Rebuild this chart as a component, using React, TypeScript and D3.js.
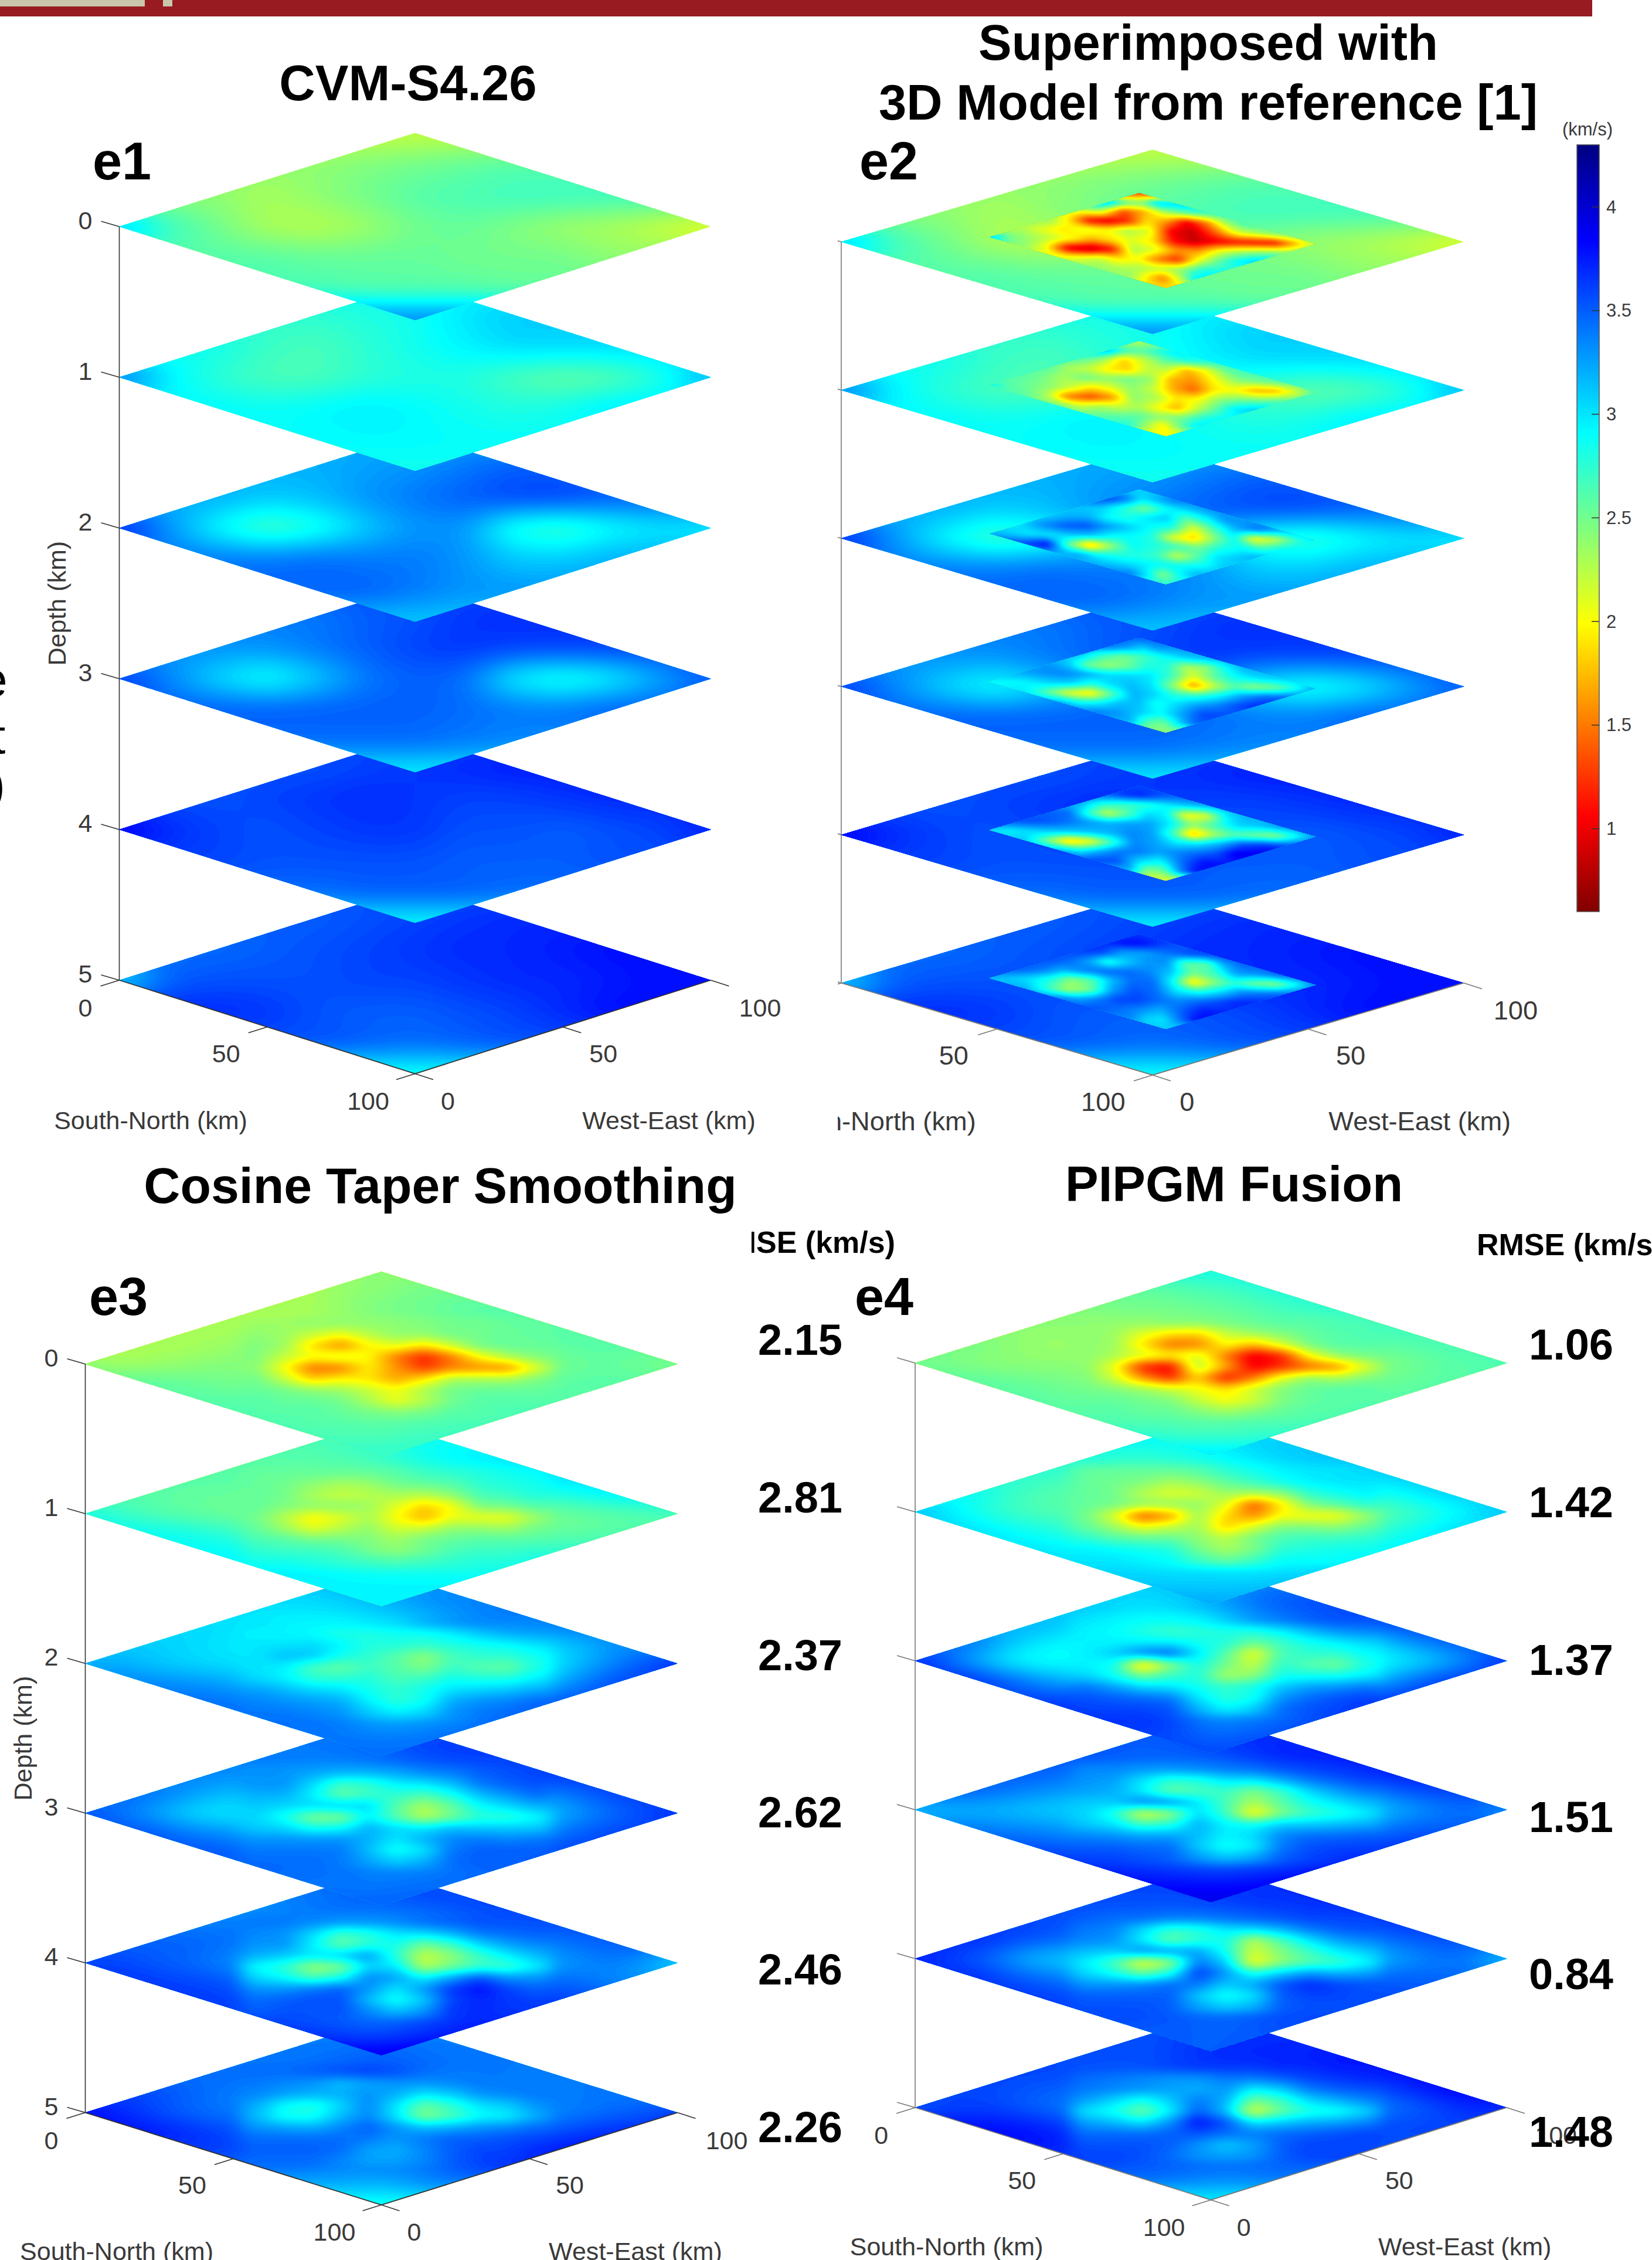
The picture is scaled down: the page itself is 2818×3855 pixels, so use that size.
import React, { useMemo } from 'react';
import * as d3 from 'd3';

// velocity grids in km/s. Each slice is a diamond: rows run top to bottom,
// and each row runs from the left edge of the diamond to its right edge.

const e1Slices = [
  [[2.2], [2.4, 2.45, 2.5, 2.55, 2.6], [2.4, 2.3, 2.4, 2.5, 2.6, 2.65, 2.7, 2.7, 2.7], [3.2, 2.7, 2.5, 2.3, 2.25, 2.35, 2.5, 2.55, 2.45, 2.35, 2.3, 2.2, 2.05], [2.6, 2.6, 2.55, 2.55, 2.55, 2.5, 2.5, 2.5, 2.4], [2.65, 2.6, 2.6, 2.6, 2.55], [3.4]],
  [[2.9], [2.75, 2.8, 2.85, 3.0, 3.1], [2.85, 2.7, 2.65, 2.75, 2.85, 2.95, 3.05, 3.05, 3.05], [3.45, 2.95, 2.75, 2.65, 2.65, 2.75, 2.8, 2.8, 2.65, 2.55, 2.6, 2.8, 3.2], [2.92, 2.88, 2.92, 2.98, 2.92, 2.85, 2.8, 2.85, 3.0], [2.9, 2.92, 2.92, 2.9, 2.9], [2.85]],
  [[3.2], [3.2, 3.25, 3.3, 3.4, 3.5], [3.2, 3.1, 3.15, 3.3, 3.4, 3.5, 3.6, 3.6, 3.5], [3.75, 3.3, 2.9, 2.65, 2.8, 3.1, 3.3, 3.3, 2.8, 2.7, 2.9, 3.0, 2.95], [3.4, 3.4, 3.45, 3.4, 3.4, 3.3, 3.1, 3.1, 3.2], [3.5, 3.5, 3.4, 3.3, 3.3], [3.1]],
  [[3.55], [3.4, 3.5, 3.55, 3.65, 3.7], [3.3, 3.3, 3.4, 3.5, 3.6, 3.65, 3.6, 3.6, 3.6], [3.65, 3.35, 3.05, 2.85, 3.1, 3.4, 3.5, 3.45, 2.95, 2.8, 2.95, 3.25, 3.5], [3.5, 3.5, 3.5, 3.5, 3.5, 3.45, 3.4, 3.4, 3.5], [3.45, 3.45, 3.45, 3.4, 3.35], [2.95]],
  [[3.6], [3.55, 3.6, 3.65, 3.7, 3.75], [3.55, 3.6, 3.65, 3.7, 3.65, 3.6, 3.6, 3.65, 3.7], [3.9, 3.7, 3.6, 3.55, 3.6, 3.65, 3.65, 3.55, 3.55, 3.5, 3.55, 3.6, 3.75], [3.6, 3.55, 3.55, 3.55, 3.55, 3.5, 3.5, 3.5, 3.55], [3.45, 3.5, 3.5, 3.5, 3.45], [2.9]],
  [[3.55], [3.5, 3.55, 3.6, 3.65, 3.7], [3.45, 3.5, 3.55, 3.6, 3.65, 3.7, 3.7, 3.75, 3.8], [3.0, 3.5, 3.55, 3.55, 3.55, 3.6, 3.6, 3.65, 3.7, 3.7, 3.75, 3.8, 3.8], [3.7, 3.65, 3.55, 3.5, 3.5, 3.55, 3.6, 3.7, 3.8], [3.55, 3.5, 3.45, 3.5, 3.55], [2.85]],
];

// the inserted 3D model block of panel e2
const e2Patches = [
  [[1.3], [3.2, 2.6, 2.5, 3.1, 3.1], [2.1, 2.2, 1.3, 1.7, 2.3, 2.6, 2.7], [2.4, 1.9, 1.1, 0.95, 1.2, 1.9, 1.6, 1.0, 1.5, 2.3, 2.7], [2.3, 2.1, 1.9, 2.1, 2.0, 2.3, 2.1, 1.0, 0.85, 1.4, 2.1, 2.3, 2.5], [3.2, 2.5, 2.35, 2.2, 2.0, 1.7, 1.9, 2.1, 1.9, 1.1, 0.85, 1.0, 1.1, 1.1, 1.1, 1.7, 2.3], [2.4, 2.0, 0.95, 0.8, 1.1, 2.3, 2.1, 1.6, 1.6, 2.1, 2.3, 2.4, 2.4], [2.1, 2.1, 2.2, 1.9, 2.0, 1.5, 1.2, 2.0, 2.5, 2.9, 3.1], [2.4, 2.3, 2.3, 2.2, 2.4, 2.8, 2.8], [2.4, 1.9, 1.5, 2.2, 3.0], [1.9]],
  [[2.3], [3.2, 2.7, 2.6, 2.8, 3.0], [2.6, 2.4, 1.8, 2.2, 2.6, 2.8, 2.8], [2.6, 2.3, 2.2, 1.9, 1.8, 2.2, 2.2, 1.7, 2.0, 2.5, 2.7], [2.6, 2.5, 2.3, 2.5, 2.4, 2.5, 2.4, 1.7, 1.6, 2.0, 2.4, 2.5, 2.6], [2.9, 2.6, 2.5, 2.4, 2.2, 1.9, 2.1, 2.4, 2.2, 1.7, 1.4, 1.9, 2.0, 1.7, 1.7, 2.1, 2.7], [2.6, 2.3, 1.5, 1.3, 1.6, 2.4, 2.3, 1.9, 2.0, 2.4, 2.5, 2.5, 2.6], [2.5, 2.2, 2.3, 2.2, 2.3, 2.0, 1.7, 2.2, 2.6, 3.0, 3.1], [2.6, 2.6, 2.6, 2.4, 2.5, 2.8, 2.9], [2.8, 2.3, 1.9, 2.5, 3.0], [2.0]],
  [[3.1], [3.6, 3.4, 3.0, 3.2, 3.4], [3.1, 3.1, 2.8, 2.5, 2.9, 3.1, 3.3], [3.1, 3.2, 3.2, 2.9, 2.8, 3.0, 3.1, 2.6, 2.9, 3.3, 3.3], [3.0, 3.3, 3.5, 3.55, 3.3, 3.1, 2.9, 2.8, 2.1, 2.7, 3.2, 3.4, 3.2], [3.2, 3.1, 3.0, 3.0, 3.1, 3.1, 2.9, 2.9, 2.8, 2.1, 1.8, 2.4, 2.9, 2.0, 2.2, 2.7, 3.0], [3.6, 3.8, 2.6, 1.7, 2.4, 2.9, 2.8, 2.7, 2.5, 2.8, 2.9, 2.7, 2.9], [3.2, 3.2, 2.9, 2.8, 2.8, 2.7, 2.2, 2.6, 3.0, 3.1, 3.2], [3.2, 3.1, 3.0, 2.9, 2.9, 2.9, 3.1], [3.4, 3.0, 2.4, 2.9, 3.2], [2.8]],
  [[3.5], [3.4, 3.3, 3.1, 3.3, 3.3], [3.1, 2.7, 2.5, 2.7, 2.9, 3.1, 3.2], [3.3, 3.1, 2.5, 2.35, 2.5, 2.8, 2.8, 2.3, 2.4, 2.9, 3.2], [3.2, 3.3, 3.35, 3.25, 3.05, 3.05, 3.0, 2.7, 2.1, 2.6, 2.9, 3.05, 3.1], [2.9, 2.9, 2.95, 3.05, 3.05, 2.8, 3.05, 3.15, 3.0, 2.4, 1.6, 2.2, 2.6, 2.4, 2.5, 2.8, 3.2], [3.0, 2.6, 2.1, 1.9, 2.6, 3.2, 3.05, 2.75, 2.75, 2.95, 3.25, 3.45, 3.45], [3.2, 2.9, 2.95, 3.15, 3.15, 2.85, 3.05, 3.25, 3.35, 3.55, 3.7], [3.4, 3.3, 3.1, 2.9, 3.25, 3.6, 3.55], [3.2, 2.6, 2.5, 3.05, 3.5], [2.4]],
  [[3.6], [3.5, 3.65, 3.7, 3.55, 3.5], [3.2, 2.8, 2.7, 2.75, 2.95, 3.1, 3.2], [3.5, 3.45, 2.75, 2.2, 2.6, 3.05, 2.95, 2.0, 2.1, 2.95, 3.2], [3.55, 3.55, 3.45, 3.3, 3.2, 3.25, 3.25, 2.95, 2.4, 2.7, 3.05, 3.1, 3.3], [3.0, 2.95, 3.05, 3.1, 3.1, 3.15, 3.2, 3.35, 3.25, 2.7, 1.7, 2.3, 2.6, 2.5, 2.4, 2.85, 3.3], [3.1, 2.5, 1.8, 2.0, 2.7, 3.35, 3.25, 3.0, 3.0, 3.2, 3.55, 3.65, 3.55], [3.2, 2.95, 3.2, 3.4, 3.4, 3.25, 3.35, 3.45, 3.55, 3.9, 3.9], [3.6, 3.55, 3.05, 2.9, 3.45, 3.8, 3.75], [3.2, 2.4, 2.5, 3.3, 3.8], [2.1]],
  [[3.65], [3.7, 3.8, 3.8, 3.65, 3.55], [3.6, 3.6, 3.25, 3.25, 3.4, 3.55, 3.6], [3.55, 3.45, 3.25, 2.8, 3.1, 3.3, 3.3, 2.6, 2.6, 3.25, 3.5], [3.5, 3.4, 3.2, 3.35, 3.45, 3.45, 3.35, 3.1, 2.5, 2.7, 3.25, 3.3, 3.5], [3.15, 3.1, 3.0, 2.8, 2.4, 2.6, 3.15, 3.45, 3.45, 2.9, 1.9, 2.4, 2.75, 2.5, 2.4, 2.85, 3.35], [3.2, 2.75, 2.3, 2.5, 3.25, 3.55, 3.45, 3.0, 2.85, 3.05, 3.35, 3.4, 3.45], [3.4, 3.25, 3.4, 3.6, 3.6, 3.45, 3.35, 3.45, 3.55, 3.7, 3.7], [3.55, 3.45, 3.35, 3.2, 3.5, 3.75, 3.7], [3.35, 3.05, 3.0, 3.4, 3.8], [3.1]],
];

const e3Slices = [
  [[2.4], [2.3, 2.4, 2.4, 2.5, 2.5], [2.3, 2.3, 2.4, 2.5, 2.5, 2.6, 2.6], [2.3, 2.3, 2.3, 2.3, 2.3, 2.4, 2.5, 2.5, 2.6, 2.6, 2.6], [2.3, 2.3, 2.35, 2.4, 2.3, 2.3, 2.35, 2.4, 2.45, 2.5, 2.55, 2.6, 2.6], [2.4, 2.3, 2.35, 2.4, 2.45, 2.4, 2.4, 2.4, 2.4, 2.4, 2.4, 2.4, 2.4, 2.5, 2.55, 2.5, 2.45], [2.6, 2.55, 2.5, 2.45, 2.45, 2.45, 2.4, 2.45, 2.5, 2.5, 2.55, 2.6, 2.6], [2.6, 2.6, 2.55, 2.5, 2.5, 2.5, 2.5, 2.5, 2.55, 2.6, 2.6], [2.65, 2.6, 2.6, 2.55, 2.6, 2.65, 2.65], [2.65, 2.65, 2.65, 2.7, 2.7], [2.75]],
  [[2.7], [2.65, 2.7, 2.75, 2.85, 2.9], [2.6, 2.6, 2.65, 2.7, 2.85, 2.95, 3.0], [2.6, 2.6, 2.55, 2.55, 2.5, 2.6, 2.7, 2.75, 2.85, 3.0, 3.05], [2.6, 2.55, 2.55, 2.5, 2.5, 2.5, 2.55, 2.6, 2.65, 2.7, 2.75, 2.85, 2.95], [2.85, 2.7, 2.6, 2.55, 2.5, 2.5, 2.5, 2.5, 2.5, 2.5, 2.5, 2.5, 2.5, 2.5, 2.55, 2.6, 2.65], [2.9, 2.85, 2.75, 2.65, 2.6, 2.55, 2.5, 2.55, 2.55, 2.55, 2.55, 2.55, 2.6], [2.9, 2.9, 2.85, 2.75, 2.65, 2.6, 2.6, 2.65, 2.7, 2.75, 2.75], [2.95, 2.95, 2.9, 2.85, 2.85, 2.85, 2.85], [2.95, 2.95, 2.95, 2.95, 2.95], [2.95]],
  [[3.2], [3.1, 3.15, 3.2, 3.3, 3.35], [3.0, 3.0, 3.05, 3.15, 3.25, 3.35, 3.4], [3.05, 3.0, 2.95, 2.9, 2.9, 2.95, 3.05, 3.2, 3.35, 3.4, 3.4], [3.1, 3.05, 3.0, 2.95, 2.9, 2.85, 2.8, 2.8, 2.85, 2.9, 3.0, 3.15, 3.3], [3.2, 3.2, 3.1, 3.05, 3.0, 3.0, 2.95, 2.85, 2.8, 2.8, 2.8, 2.8, 2.85, 3.05, 3.3, 3.5, 3.75], [3.35, 3.3, 3.25, 3.1, 2.95, 2.85, 2.85, 2.85, 2.85, 2.9, 3.05, 3.35, 3.6], [3.45, 3.4, 3.4, 3.3, 3.15, 2.95, 2.95, 3.1, 3.3, 3.45, 3.55], [3.45, 3.45, 3.4, 3.2, 3.25, 3.35, 3.5], [3.4, 3.4, 3.4, 3.4, 3.45], [3.45]],
  [[3.4], [3.4, 3.45, 3.5, 3.6, 3.65], [3.4, 3.4, 3.4, 3.45, 3.55, 3.6, 3.6], [3.35, 3.3, 3.3, 3.25, 3.25, 3.3, 3.4, 3.45, 3.55, 3.6, 3.65], [3.45, 3.3, 3.15, 3.15, 3.15, 3.1, 3.1, 3.1, 3.1, 3.15, 3.3, 3.45, 3.6], [3.55, 3.4, 3.2, 3.0, 2.95, 3.05, 3.05, 3.05, 3.05, 3.05, 3.05, 3.05, 3.05, 3.2, 3.4, 3.55, 3.7], [3.55, 3.4, 3.3, 3.2, 3.15, 3.15, 3.15, 3.15, 3.2, 3.2, 3.3, 3.5, 3.6], [3.55, 3.5, 3.4, 3.35, 3.3, 3.2, 3.2, 3.35, 3.45, 3.5, 3.6], [3.5, 3.45, 3.45, 3.35, 3.35, 3.45, 3.5], [3.4, 3.4, 3.4, 3.45, 3.45], [3.5]],
  [[3.5], [3.4, 3.5, 3.5, 3.6, 3.6], [3.3, 3.4, 3.45, 3.45, 3.5, 3.55, 3.6], [3.4, 3.4, 3.4, 3.35, 3.3, 3.3, 3.3, 3.4, 3.5, 3.55, 3.55], [3.5, 3.5, 3.45, 3.4, 3.3, 3.2, 3.2, 3.2, 3.25, 3.3, 3.35, 3.45, 3.5], [3.6, 3.6, 3.5, 3.45, 3.3, 3.2, 3.2, 3.2, 3.2, 3.2, 3.2, 3.2, 3.2, 3.25, 3.4, 3.3, 2.95], [3.65, 3.6, 3.55, 3.4, 3.3, 3.3, 3.3, 3.3, 3.5, 3.55, 3.5, 3.45, 3.3], [3.65, 3.6, 3.55, 3.5, 3.4, 3.35, 3.4, 3.55, 3.65, 3.65, 3.6], [3.6, 3.55, 3.5, 3.4, 3.5, 3.7, 3.7], [3.65, 3.6, 3.6, 3.7, 3.75], [3.95]],
  [[3.3], [3.4, 3.4, 3.45, 3.4, 3.4], [3.4, 3.4, 3.45, 3.5, 3.45, 3.4, 3.4], [3.45, 3.45, 3.45, 3.5, 3.55, 3.55, 3.5, 3.45, 3.4, 3.4, 3.4], [3.6, 3.5, 3.4, 3.35, 3.35, 3.35, 3.35, 3.35, 3.35, 3.35, 3.4, 3.4, 3.4], [3.85, 3.7, 3.55, 3.45, 3.4, 3.35, 3.35, 3.35, 3.35, 3.35, 3.35, 3.35, 3.35, 3.35, 3.45, 3.5, 3.65], [3.8, 3.7, 3.6, 3.45, 3.4, 3.4, 3.4, 3.4, 3.4, 3.4, 3.5, 3.6, 3.7], [3.65, 3.6, 3.55, 3.5, 3.45, 3.4, 3.45, 3.5, 3.65, 3.75, 3.8], [3.45, 3.4, 3.35, 3.35, 3.4, 3.55, 3.65], [3.2, 3.2, 3.15, 3.25, 3.35], [2.8]],
];

// centre detail of e3: 9 rows of 11 values over the middle of each slice
const e3Details = [
  [[2.35, 2.35, 2.4, 2.4, 2.4, 2.4, 2.45, 2.5, 2.5, 2.55, 2.55], [2.4, 2.35, 2.2, 2.05, 2.25, 2.4, 2.4, 2.5, 2.5, 2.55, 2.55], [2.45, 2.35, 1.85, 1.55, 1.95, 2.1, 1.9, 2.2, 2.5, 2.55, 2.55], [2.45, 2.2, 2.05, 2.15, 2.0, 1.5, 1.15, 1.5, 2.0, 2.3, 2.45], [2.4, 2.0, 1.45, 1.5, 1.95, 1.6, 1.25, 1.5, 1.55, 1.55, 2.1], [2.5, 2.2, 1.8, 1.95, 1.9, 1.65, 1.9, 2.3, 2.3, 2.3, 2.45], [2.55, 2.5, 2.4, 2.35, 2.2, 2.05, 2.3, 2.5, 2.55, 2.55, 2.55], [2.6, 2.55, 2.55, 2.5, 2.3, 2.05, 2.25, 2.5, 2.6, 2.6, 2.6], [2.6, 2.6, 2.6, 2.55, 2.5, 2.45, 2.5, 2.6, 2.6, 2.65, 2.65]],
  [[2.55, 2.55, 2.55, 2.55, 2.55, 2.6, 2.7, 2.75, 2.8, 2.85, 2.9], [2.55, 2.5, 2.4, 2.3, 2.35, 2.5, 2.55, 2.6, 2.75, 2.8, 2.85], [2.55, 2.5, 2.3, 2.2, 2.25, 2.3, 2.25, 2.4, 2.65, 2.7, 2.8], [2.55, 2.45, 2.4, 2.4, 2.35, 2.1, 1.8, 2.0, 2.45, 2.5, 2.6], [2.5, 2.25, 1.95, 2.1, 2.3, 2.0, 1.7, 2.05, 2.05, 2.05, 2.35], [2.55, 2.35, 2.1, 2.25, 2.4, 2.15, 2.2, 2.4, 2.4, 2.35, 2.5], [2.65, 2.6, 2.5, 2.5, 2.45, 2.35, 2.5, 2.55, 2.6, 2.6, 2.6], [2.75, 2.7, 2.7, 2.65, 2.5, 2.4, 2.5, 2.65, 2.7, 2.7, 2.75], [2.85, 2.85, 2.8, 2.75, 2.7, 2.65, 2.7, 2.75, 2.8, 2.8, 2.85]],
  [[3.0, 2.95, 2.95, 2.95, 3.0, 3.05, 3.2, 3.3, 3.35, 3.35, 3.35], [2.95, 2.95, 2.9, 2.8, 2.8, 2.85, 2.85, 2.95, 3.1, 3.2, 3.25], [3.0, 3.0, 3.05, 2.95, 2.8, 2.8, 2.75, 2.8, 2.85, 2.9, 3.0], [3.0, 3.15, 3.1, 2.85, 2.75, 2.6, 2.4, 2.65, 2.75, 2.75, 2.85], [3.0, 2.95, 2.65, 2.55, 2.7, 2.6, 2.45, 2.7, 2.6, 2.55, 2.8], [3.05, 2.95, 2.75, 2.75, 2.8, 2.65, 2.7, 2.85, 2.8, 2.8, 2.95], [3.25, 3.15, 3.05, 3.0, 2.85, 2.75, 2.85, 3.0, 3.05, 3.1, 3.2], [3.35, 3.3, 3.25, 3.2, 2.95, 2.75, 2.85, 3.2, 3.3, 3.35, 3.45], [3.4, 3.4, 3.35, 3.3, 3.1, 2.95, 3.05, 3.3, 3.4, 3.45, 3.5]],
  [[3.3, 3.3, 3.25, 3.2, 3.2, 3.25, 3.35, 3.4, 3.5, 3.55, 3.6], [3.3, 3.3, 3.05, 2.7, 2.75, 2.95, 3.0, 3.15, 3.4, 3.5, 3.55], [3.2, 3.2, 2.95, 2.55, 2.7, 2.75, 2.65, 2.85, 3.15, 3.3, 3.45], [3.1, 3.05, 3.05, 3.1, 3.05, 2.6, 2.3, 2.55, 2.9, 3.05, 3.2], [3.05, 2.85, 2.45, 2.45, 2.95, 2.6, 2.25, 2.5, 2.75, 2.75, 2.9], [3.1, 3.05, 2.85, 2.9, 3.2, 3.05, 3.0, 3.15, 3.1, 3.1, 3.1], [3.3, 3.3, 3.3, 3.3, 3.2, 3.0, 3.2, 3.35, 3.4, 3.35, 3.4], [3.4, 3.4, 3.4, 3.4, 3.15, 2.85, 3.0, 3.4, 3.5, 3.5, 3.5], [3.45, 3.45, 3.45, 3.4, 3.25, 3.1, 3.2, 3.45, 3.5, 3.5, 3.5]],
  [[3.4, 3.4, 3.35, 3.3, 3.3, 3.35, 3.45, 3.5, 3.55, 3.55, 3.55], [3.35, 3.3, 3.05, 2.7, 2.8, 3.0, 3.05, 3.2, 3.4, 3.45, 3.5], [3.3, 3.3, 2.95, 2.55, 2.75, 2.85, 2.5, 2.7, 3.05, 3.25, 3.35], [3.2, 3.1, 3.0, 3.1, 3.3, 2.75, 2.2, 2.4, 2.7, 2.95, 3.15], [2.9, 2.75, 2.35, 2.45, 3.05, 3.0, 2.25, 2.5, 2.7, 2.7, 2.95], [3.05, 2.9, 2.65, 2.85, 3.35, 3.25, 2.95, 3.25, 3.55, 3.3, 3.3], [3.3, 3.3, 3.4, 3.5, 3.3, 3.0, 3.3, 3.65, 3.8, 3.6, 3.5], [3.45, 3.5, 3.55, 3.55, 3.15, 2.85, 3.1, 3.6, 3.7, 3.65, 3.6], [3.5, 3.55, 3.55, 3.55, 3.35, 3.15, 3.3, 3.65, 3.7, 3.65, 3.65]],
  [[3.45, 3.45, 3.5, 3.55, 3.6, 3.55, 3.45, 3.4, 3.4, 3.4, 3.4], [3.4, 3.35, 3.3, 3.15, 3.25, 3.3, 3.3, 3.35, 3.4, 3.4, 3.4], [3.35, 3.25, 3.2, 3.2, 3.3, 3.2, 3.0, 3.1, 3.3, 3.35, 3.4], [3.2, 2.9, 2.8, 3.05, 3.35, 3.0, 2.55, 2.75, 3.0, 3.1, 3.3], [3.15, 2.85, 2.85, 3.15, 3.35, 3.0, 2.45, 2.65, 2.9, 2.95, 3.2], [3.3, 3.25, 3.2, 3.35, 3.5, 3.3, 3.15, 3.2, 3.3, 3.35, 3.45], [3.45, 3.45, 3.45, 3.45, 3.4, 3.3, 3.4, 3.5, 3.5, 3.55, 3.6], [3.5, 3.5, 3.5, 3.45, 3.25, 3.2, 3.35, 3.5, 3.6, 3.6, 3.7], [3.45, 3.45, 3.45, 3.35, 3.25, 3.25, 3.35, 3.5, 3.6, 3.65, 3.7]],
];

const e4Slices = [
  [[2.85], [2.55, 2.6, 2.65, 2.7, 2.8], [2.45, 2.5, 2.5, 2.55, 2.6, 2.7, 2.75], [2.4, 2.4, 2.4, 2.4, 2.4, 2.45, 2.5, 2.6, 2.6, 2.65, 2.7], [2.5, 2.4, 2.35, 2.35, 2.35, 2.35, 2.4, 2.45, 2.5, 2.55, 2.6, 2.6, 2.65], [2.5, 2.45, 2.4, 2.4, 2.4, 2.4, 2.4, 2.4, 2.4, 2.4, 2.4, 2.45, 2.45, 2.45, 2.55, 2.6, 2.65], [2.6, 2.55, 2.5, 2.45, 2.45, 2.45, 2.45, 2.5, 2.5, 2.55, 2.5, 2.55, 2.6], [2.6, 2.55, 2.55, 2.55, 2.5, 2.5, 2.5, 2.5, 2.55, 2.6, 2.6], [2.6, 2.6, 2.6, 2.55, 2.6, 2.6, 2.65], [2.75, 2.7, 2.7, 2.7, 2.75], [3.05]],
  [[2.95], [2.9, 2.9, 2.95, 3.05, 3.1], [2.8, 2.75, 2.8, 2.9, 3.0, 3.1, 3.15], [2.75, 2.7, 2.65, 2.6, 2.6, 2.7, 2.85, 2.95, 3.0, 3.05, 3.1], [2.9, 2.7, 2.6, 2.55, 2.55, 2.55, 2.6, 2.7, 2.7, 2.7, 2.8, 2.95, 3.1], [3.2, 2.95, 2.75, 2.65, 2.6, 2.55, 2.55, 2.55, 2.55, 2.55, 2.55, 2.55, 2.55, 2.6, 2.75, 2.95, 3.15], [3.05, 2.9, 2.8, 2.7, 2.65, 2.6, 2.6, 2.6, 2.65, 2.65, 2.7, 2.85, 3.05], [3.0, 2.95, 2.9, 2.85, 2.8, 2.7, 2.7, 2.8, 2.8, 2.85, 2.95], [3.05, 3.05, 3.0, 3.0, 2.95, 3.0, 3.05], [3.1, 3.1, 3.1, 3.1, 3.15], [3.25]],
  [[3.05], [3.1, 3.1, 3.2, 3.35, 3.45], [3.1, 3.0, 3.05, 3.2, 3.4, 3.55, 3.6], [3.2, 3.1, 3.0, 2.95, 2.9, 3.0, 3.2, 3.35, 3.45, 3.55, 3.6], [3.45, 3.1, 2.95, 2.9, 2.9, 2.85, 2.85, 2.85, 2.9, 2.9, 3.0, 3.3, 3.5], [3.75, 3.4, 3.05, 2.85, 2.85, 2.95, 2.9, 2.85, 2.85, 2.85, 2.85, 2.85, 2.85, 2.9, 3.05, 3.35, 3.7], [3.7, 3.45, 3.2, 3.1, 3.0, 2.95, 2.95, 2.9, 2.9, 2.95, 3.05, 3.4, 3.65], [3.6, 3.6, 3.55, 3.5, 3.3, 3.0, 3.0, 3.2, 3.4, 3.55, 3.65], [3.7, 3.7, 3.65, 3.3, 3.35, 3.5, 3.65], [3.6, 3.55, 3.45, 3.5, 3.55], [3.6]],
  [[3.6], [3.5, 3.55, 3.6, 3.7, 3.7], [3.55, 3.5, 3.5, 3.55, 3.65, 3.75, 3.75], [3.5, 3.45, 3.4, 3.4, 3.35, 3.35, 3.45, 3.55, 3.65, 3.7, 3.75], [3.5, 3.4, 3.3, 3.25, 3.2, 3.15, 3.15, 3.15, 3.2, 3.25, 3.4, 3.55, 3.6], [3.1, 3.15, 3.15, 3.1, 3.05, 3.05, 3.05, 3.05, 3.05, 3.05, 3.05, 3.05, 3.05, 3.15, 3.35, 3.45, 3.25], [3.4, 3.35, 3.3, 3.2, 3.15, 3.15, 3.2, 3.15, 3.2, 3.25, 3.35, 3.5, 3.5], [3.55, 3.5, 3.5, 3.45, 3.4, 3.3, 3.3, 3.4, 3.5, 3.6, 3.65], [3.7, 3.65, 3.6, 3.5, 3.55, 3.65, 3.75], [3.8, 3.8, 3.8, 3.8, 3.85], [3.95]],
  [[3.6], [3.6, 3.6, 3.6, 3.65, 3.7], [3.55, 3.55, 3.55, 3.6, 3.65, 3.65, 3.7], [3.6, 3.55, 3.5, 3.45, 3.4, 3.4, 3.45, 3.55, 3.6, 3.6, 3.65], [3.7, 3.6, 3.5, 3.4, 3.3, 3.25, 3.3, 3.25, 3.3, 3.3, 3.4, 3.5, 3.55], [3.75, 3.6, 3.45, 3.15, 3.05, 3.05, 3.05, 3.1, 3.15, 3.1, 3.1, 3.1, 3.1, 3.2, 3.4, 3.4, 3.0], [3.7, 3.55, 3.4, 3.3, 3.25, 3.3, 3.5, 3.3, 3.45, 3.55, 3.5, 3.5, 3.45], [3.65, 3.6, 3.6, 3.5, 3.45, 3.3, 3.35, 3.5, 3.55, 3.6, 3.55], [3.6, 3.6, 3.55, 3.45, 3.5, 3.6, 3.6], [3.5, 3.5, 3.5, 3.5, 3.55], [3.5]],
  [[3.6], [3.55, 3.6, 3.65, 3.7, 3.7], [3.55, 3.55, 3.6, 3.7, 3.7, 3.7, 3.75], [3.6, 3.6, 3.55, 3.55, 3.6, 3.65, 3.7, 3.75, 3.75, 3.8, 3.8], [3.6, 3.55, 3.5, 3.45, 3.4, 3.4, 3.45, 3.45, 3.45, 3.45, 3.55, 3.7, 3.85], [3.5, 3.6, 3.6, 3.5, 3.4, 3.35, 3.35, 3.4, 3.45, 3.35, 3.35, 3.35, 3.35, 3.4, 3.55, 3.7, 3.7], [3.8, 3.8, 3.7, 3.55, 3.5, 3.6, 3.65, 3.45, 3.45, 3.5, 3.6, 3.6, 3.6], [3.8, 3.75, 3.6, 3.55, 3.55, 3.45, 3.45, 3.55, 3.55, 3.55, 3.55], [3.6, 3.55, 3.5, 3.45, 3.45, 3.5, 3.5], [3.45, 3.4, 3.35, 3.35, 3.4], [2.9]],
];

// centre detail of e4, same layout as e3Details
const e4Details = [
  [[2.4, 2.4, 2.4, 2.45, 2.45, 2.5, 2.55, 2.6, 2.6, 2.65, 2.65], [2.4, 2.35, 2.1, 1.9, 1.85, 2.2, 2.35, 2.45, 2.55, 2.6, 2.65], [2.4, 2.35, 1.9, 1.45, 1.5, 2.0, 1.75, 2.15, 2.5, 2.6, 2.6], [2.4, 2.3, 2.15, 2.0, 2.15, 1.5, 0.95, 1.15, 2.0, 2.4, 2.5], [2.4, 2.05, 1.15, 1.0, 2.3, 1.7, 1.0, 1.2, 1.4, 1.55, 2.1], [2.45, 2.15, 1.6, 1.2, 1.8, 1.1, 1.5, 2.1, 2.4, 2.3, 2.45], [2.5, 2.45, 2.35, 2.2, 2.05, 1.9, 2.2, 2.45, 2.55, 2.6, 2.6], [2.55, 2.55, 2.5, 2.45, 2.2, 2.0, 2.15, 2.45, 2.55, 2.6, 2.6], [2.6, 2.6, 2.55, 2.55, 2.45, 2.35, 2.45, 2.55, 2.6, 2.6, 2.6]],
  [[2.55, 2.55, 2.55, 2.55, 2.6, 2.75, 2.85, 2.95, 3.0, 3.0, 3.05], [2.55, 2.5, 2.45, 2.3, 2.4, 2.55, 2.7, 2.85, 2.95, 3.0, 3.0], [2.55, 2.5, 2.25, 2.1, 2.15, 2.35, 2.3, 2.4, 2.75, 2.85, 2.95], [2.55, 2.5, 2.4, 2.4, 2.4, 2.1, 1.35, 1.9, 2.45, 2.6, 2.75], [2.5, 2.1, 1.35, 1.6, 2.35, 1.85, 1.55, 2.0, 2.0, 2.0, 2.35], [2.55, 2.35, 2.05, 2.2, 2.35, 1.8, 2.15, 2.45, 2.45, 2.4, 2.55], [2.75, 2.6, 2.55, 2.55, 2.4, 2.25, 2.5, 2.65, 2.7, 2.7, 2.75], [2.95, 2.9, 2.85, 2.8, 2.5, 2.3, 2.45, 2.75, 2.8, 2.85, 2.85], [3.0, 3.0, 2.95, 2.9, 2.7, 2.55, 2.7, 2.9, 2.9, 2.9, 2.95]],
  [[3.0, 2.95, 2.9, 2.9, 2.95, 3.1, 3.3, 3.4, 3.5, 3.55, 3.55], [2.95, 2.9, 2.8, 2.7, 2.75, 2.8, 2.8, 2.95, 3.15, 3.3, 3.35], [2.95, 2.95, 2.95, 2.95, 2.85, 2.8, 2.55, 2.7, 2.85, 2.95, 3.05], [2.95, 3.1, 3.4, 3.5, 3.0, 2.6, 2.05, 2.65, 2.75, 2.75, 2.9], [2.95, 2.85, 1.8, 2.4, 2.85, 2.5, 2.2, 2.75, 2.6, 2.5, 2.8], [3.05, 2.85, 2.5, 2.7, 2.8, 2.3, 2.4, 2.85, 2.85, 2.85, 2.95], [3.4, 3.25, 3.05, 3.0, 2.85, 2.75, 2.85, 3.1, 3.25, 3.3, 3.4], [3.55, 3.5, 3.45, 3.4, 3.0, 2.75, 2.85, 3.3, 3.45, 3.55, 3.6], [3.6, 3.6, 3.6, 3.55, 3.2, 2.95, 3.1, 3.45, 3.55, 3.6, 3.65]],
  [[3.35, 3.35, 3.3, 3.3, 3.35, 3.4, 3.45, 3.55, 3.6, 3.65, 3.7], [3.3, 3.25, 3.0, 2.75, 2.8, 3.0, 3.0, 3.2, 3.4, 3.5, 3.6], [3.25, 3.2, 2.95, 2.55, 2.65, 2.7, 2.45, 2.7, 3.05, 3.25, 3.4], [3.1, 3.1, 3.4, 3.35, 3.0, 2.65, 2.3, 2.6, 2.85, 3.0, 3.15], [3.05, 2.8, 2.1, 2.35, 3.05, 2.7, 1.95, 2.45, 2.7, 2.8, 2.95], [3.1, 3.0, 2.7, 2.8, 3.2, 2.95, 2.9, 3.1, 3.1, 3.15, 3.2], [3.35, 3.3, 3.25, 3.25, 3.15, 2.95, 3.05, 3.35, 3.45, 3.45, 3.5], [3.5, 3.5, 3.45, 3.45, 3.1, 2.85, 2.95, 3.4, 3.55, 3.6, 3.6], [3.6, 3.6, 3.55, 3.5, 3.3, 3.15, 3.25, 3.5, 3.6, 3.65, 3.7]],
  [[3.5, 3.45, 3.45, 3.4, 3.4, 3.45, 3.5, 3.55, 3.6, 3.6, 3.6], [3.4, 3.35, 3.05, 2.75, 2.8, 3.0, 3.05, 3.2, 3.4, 3.5, 3.55], [3.35, 3.3, 2.95, 2.55, 2.75, 2.85, 2.25, 2.65, 3.0, 3.25, 3.35], [3.15, 3.1, 3.35, 3.3, 3.25, 2.85, 2.15, 2.45, 2.7, 2.95, 3.1], [2.95, 2.65, 2.05, 2.35, 3.4, 3.1, 2.0, 2.4, 2.6, 2.7, 2.9], [3.05, 2.85, 2.55, 2.85, 3.65, 3.3, 2.85, 3.1, 3.3, 3.2, 3.25], [3.3, 3.3, 3.35, 3.45, 3.4, 3.1, 3.25, 3.55, 3.7, 3.6, 3.55], [3.5, 3.5, 3.5, 3.5, 3.1, 2.85, 3.0, 3.5, 3.6, 3.6, 3.55], [3.55, 3.55, 3.55, 3.5, 3.25, 3.1, 3.2, 3.5, 3.55, 3.55, 3.55]],
  [[3.55, 3.55, 3.55, 3.6, 3.65, 3.65, 3.65, 3.7, 3.7, 3.75, 3.75], [3.45, 3.4, 3.35, 3.3, 3.3, 3.4, 3.4, 3.5, 3.6, 3.65, 3.7], [3.4, 3.35, 3.3, 3.25, 3.2, 3.3, 2.95, 3.1, 3.4, 3.5, 3.55], [3.25, 3.05, 2.85, 3.1, 3.4, 3.2, 2.5, 2.7, 3.05, 3.2, 3.35], [3.0, 2.85, 2.5, 2.95, 3.5, 3.15, 2.1, 2.55, 2.8, 2.85, 3.05], [3.25, 3.15, 3.0, 3.3, 3.8, 3.55, 3.0, 3.1, 3.2, 3.25, 3.35], [3.45, 3.45, 3.45, 3.5, 3.55, 3.45, 3.4, 3.45, 3.5, 3.55, 3.6], [3.55, 3.55, 3.55, 3.5, 3.3, 3.1, 3.25, 3.5, 3.6, 3.6, 3.6], [3.6, 3.6, 3.55, 3.45, 3.3, 3.25, 3.3, 3.5, 3.6, 3.6, 3.6]],
];

const e3Rmse = ['2.15', '2.81', '2.37', '2.62', '2.46', '2.26'];
const e4Rmse = ['1.06', '1.42', '1.37', '1.51', '0.84', '1.48'];
const depthTicks = [0, 1, 2, 3, 4, 5];
const planTicks = [0, 50, 100];
const colorbarTicks = [1, 1.5, 2, 2.5, 3, 3.5, 4];
const jetStops = [0.6, 1.06, 1.99, 2.91, 3.84, 4.3];
const jetColors = ['#800000', '#ff0000', '#ffff00', '#00ffff', '#0000ff', '#000080'];

const FONT = '"Liberation Sans", Arial, sans-serif';
const INK = '#3a3a3a';
const GRID_W = 240;
const GRID_H = 120;
const LEVEL_STEP = 0.025;

const jet = d3.scaleLinear<string>().domain(jetStops).range(jetColors).clamp(true);
const levels = d3.range(0.6, 4.3, LEVEL_STEP);

// where the detail grids sit inside a slice
const DETAIL_A0 = -0.42;
const DETAIL_DA = 0.094;
const DETAIL_B0 = -0.44;
const DETAIL_DB = 0.12;

// offsets of the tick labels from their ticks
const snLabelOffset = [[-58, 47], [-70, 45], [-80, 46]];
const weLabelOffset = [[56, 46], [69, 45], [84, 47]];

// the e2 block is a slightly rotated half size diamond inside the slice
const patchAffine = (p: number, q: number): [number, number] => [
  0.523 * p + 0.0425 * q,
  -0.015 + 0.0365 * p + 0.514 * q,
];

function rowValue(row: number[], rowB: number, a: number) {
  if (row.length === 1) return row[0];
  const w = 1 - Math.abs(rowB);
  const pos = Math.max(0, Math.min(row.length - 1, ((a / w + 1) / 2) * (row.length - 1)));
  const i = Math.min(row.length - 2, Math.floor(pos));
  return row[i] + (row[i + 1] - row[i]) * (pos - i);
}

const smooth01 = (t: number) => {
  const c = Math.max(0, Math.min(1, t));
  return c * c * (3 - 2 * c);
};

function detailValue(detail: number[][], u: number, v: number) {
  const nr = detail.length;
  const nc = detail[0].length;
  const cu = Math.max(0, Math.min(nc - 1, u));
  const cv = Math.max(0, Math.min(nr - 1, v));
  const i = Math.min(nc - 2, Math.floor(cu));
  const j = Math.min(nr - 2, Math.floor(cv));
  const tu = cu - i;
  const tv = cv - j;
  return (
    (detail[j][i] * (1 - tu) + detail[j][i + 1] * tu) * (1 - tv) +
    (detail[j + 1][i] * (1 - tu) + detail[j + 1][i + 1] * tu) * tv
  );
}

function rasterise(rows: number[][], blur: number, detail?: number[][]) {
  const data = new Float64Array(GRID_W * GRID_H);
  const n = rows.length;
  for (let iy = 0; iy < GRID_H; iy++) {
    const b = -1 + (2 * (iy + 0.5)) / GRID_H;
    const pos = ((b + 1) / 2) * (n - 1);
    const i0 = Math.min(n - 2, Math.floor(pos));
    const t = pos - i0;
    const b0 = -1 + (2 * i0) / (n - 1);
    const b1 = -1 + (2 * (i0 + 1)) / (n - 1);
    for (let ix = 0; ix < GRID_W; ix++) {
      const a = -1 + (2 * (ix + 0.5)) / GRID_W;
      data[iy * GRID_W + ix] = rowValue(rows[i0], b0, a) * (1 - t) + rowValue(rows[i0 + 1], b1, a) * t;
    }
  }
  d3.blur2({ data, width: GRID_W, height: GRID_H }, blur, blur * 0.75);
  if (detail) {
    const nr = detail.length;
    const nc = detail[0].length;
    for (let iy = 0; iy < GRID_H; iy++) {
      const b = -1 + (2 * (iy + 0.5)) / GRID_H;
      const v = (b - DETAIL_B0) / DETAIL_DB;
      const mv = smooth01(Math.min(v, nr - 1 - v) + 1);
      if (mv === 0) continue;
      for (let ix = 0; ix < GRID_W; ix++) {
        const a = -1 + (2 * (ix + 0.5)) / GRID_W;
        const u = (a - DETAIL_A0) / DETAIL_DA;
        const m = mv * smooth01(Math.min(u, nc - 1 - u) + 1);
        if (m === 0) continue;
        const k = iy * GRID_W + ix;
        data[k] = data[k] * (1 - m) + detailValue(detail, u, v) * m;
      }
    }
    d3.blur2({ data, width: GRID_W, height: GRID_H }, 2, 1.5);
  }
  return data;
}

type SheetProps = {
  id: string;
  rows: number[][];
  detail?: number[][];
  toScreen: (a: number, b: number) => [number, number];
  blur?: number;
};

function Sheet({ id, rows, detail, toScreen, blur = 4 }: SheetProps) {
  const { paths, base } = useMemo(() => {
    const data = rasterise(rows, blur, detail);
    const [lo, hi] = d3.extent(data) as [number, number];
    const thresholds = levels.filter((t) => t > lo && t < hi);
    const contours = d3.contours().size([GRID_W, GRID_H]).thresholds(thresholds)(data as any);
    const project = d3.geoTransform({
      point(x: number, y: number) {
        const [sx, sy] = toScreen(-1 + (2 * x) / GRID_W, -1 + (2 * y) / GRID_H);
        (this as any).stream.point(sx, sy);
      },
    });
    const geo = d3.geoPath(project);
    return {
      base: jet(lo),
      paths: contours.map((c) => ({ d: geo(c) as string, fill: jet(c.value + LEVEL_STEP / 2) })),
    };
  }, [rows, detail, blur]);

  const outline = [toScreen(-1, 0), toScreen(0, -1), toScreen(1, 0), toScreen(0, 1)];
  const points = outline.map((p) => p.join(',')).join(' ');
  return (
    <g>
      <clipPath id={id}>
        <polygon points={points} />
      </clipPath>
      <g clipPath={`url(#${id})`}>
        <polygon points={points} fill={base} />
        {paths.map((p, i) => (
          <path key={i} d={p.d} fill={p.fill} />
        ))}
      </g>
    </g>
  );
}

type PanelProps = {
  name: string;
  slices: number[][][];
  patches?: number[][][];
  details?: number[][][];
  cx: number;
  halfW: number;
  halfH: number;
  y0: number;
  y5: number;
  axisColor: string;
  showDepthLabels: boolean;
  showSn0: boolean;
  clipLeft?: number;
};

function Panel({ name, slices, patches, details, cx, halfW, halfH, y0, y5, axisColor, showDepthLabels, showSn0, clipLeft }: PanelProps) {
  const depthY = d3.scaleLinear().domain([0, 5]).range([y0, y5]);
  const left = cx - halfW;
  const right = cx + halfW;
  const bottom = y5 + halfH;
  const snX = d3.scaleLinear().domain([0, 100]).range([left, cx]);
  const weX = d3.scaleLinear().domain([0, 100]).range([cx, right]);
  const planY = d3.scaleLinear().domain([0, 100]).range([y5, bottom]);
  const weY = d3.scaleLinear().domain([0, 100]).range([bottom, y5]);
  const clipId = `${name}-axis-clip`;
  const k = halfW / 504.5;
  const tickProps = { stroke: axisColor, strokeWidth: 1.6 };
  const labelProps = { fontFamily: FONT, fontSize: 43 * k, fill: INK, textAnchor: 'middle' as const, dominantBaseline: 'central' as const };

  return (
    <g>
      {depthTicks
        .slice()
        .reverse()
        .map((d) => {
          const yd = depthY(d);
          const bg = (a: number, b: number): [number, number] => [cx + halfW * a, yd + halfH * b];
          const inner = (p: number, q: number): [number, number] => {
            const [a, b] = patchAffine(p, q);
            return bg(a, b);
          };
          return (
            <g key={d}>
              <Sheet id={`${name}-s${d}`} rows={slices[d]} detail={details ? details[d] : undefined} toScreen={bg} blur={details ? 5 : 6} />
              {patches && <Sheet id={`${name}-p${d}`} rows={patches[d]} toScreen={inner} blur={2} />}
            </g>
          );
        })}
      {clipLeft !== undefined && (
        <clipPath id={clipId}>
          <rect x={clipLeft} y={0} width={2818} height={3855} />
        </clipPath>
      )}
      <g clipPath={clipLeft !== undefined ? `url(#${clipId})` : undefined}>
        <line x1={left} x2={left} y1={y0} y2={y5} {...tickProps} />
        <polyline points={`${left},${y5} ${cx},${bottom} ${right},${y5}`} fill="none" stroke={axisColor} strokeWidth={1.8} />
        {depthTicks.map((d) => (
          <g key={d}>
            <line x1={left} x2={left - 31} y1={depthY(d)} y2={depthY(d) - 9} {...tickProps} />
            {showDepthLabels && (
              <text x={left - 58} y={depthY(d) - 11} {...labelProps}>
                {d}
              </text>
            )}
          </g>
        ))}
        {planTicks.map((t, i) => (
          <g key={t}>
            <line x1={snX(t)} x2={snX(t) - 32} y1={planY(t)} y2={planY(t) + 10} {...tickProps} />
            <line x1={weX(t)} x2={weX(t) + 31} y1={weY(t)} y2={weY(t) + 10} {...tickProps} />
            {(t > 0 || showSn0) && (
              <text x={snX(t) + snLabelOffset[i][0] * k} y={planY(t) + snLabelOffset[i][1]} {...labelProps}>
                {t}
              </text>
            )}
            <text x={weX(t) + weLabelOffset[i][0] * k} y={weY(t) + weLabelOffset[i][1]} {...labelProps}>
              {t}
            </text>
          </g>
        ))}
        <text x={cx - 451 * k} y={bottom + 79} {...labelProps}>
          South-North (km)
        </text>
        <text x={cx + 433 * k} y={bottom + 79} {...labelProps}>
          West-East (km)
        </text>
      </g>
      {showDepthLabels && (
        <text transform={`translate(${left - 107},${(y0 + y5) / 2}) rotate(-90)`} {...labelProps}>
          Depth (km)
        </text>
      )}
    </g>
  );
}

function Colorbar() {
  const y = d3.scaleLinear().domain([4.3, 0.6]).range([247, 1555]);
  const x0 = 2690;
  const x1 = 2728;
  return (
    <g>
      <defs>
        <linearGradient id="jet-bar" x1="0" x2="0" y1="0" y2="1">
          {jetStops
            .slice()
            .reverse()
            .map((v, i) => (
              <stop key={v} offset={(4.3 - v) / 3.7} stopColor={jetColors[jetColors.length - 1 - i]} />
            ))}
        </linearGradient>
      </defs>
      <rect x={x0} y={y(4.3)} width={x1 - x0} height={y(0.6) - y(4.3)} fill="url(#jet-bar)" stroke="#555" strokeWidth={1.5} />
      {colorbarTicks.map((t) => (
        <g key={t}>
          <line x1={x1 - 13} x2={x1} y1={y(t)} y2={y(t)} stroke="#333" strokeWidth={1.5} />
          <text x={2740} y={y(t)} fontFamily={FONT} fontSize={31} fill={INK} dominantBaseline="central">
            {t}
          </text>
        </g>
      ))}
      <text x={2708} y={231} fontFamily={FONT} fontSize={31} fill={INK} textAnchor="middle">
        (km/s)
      </text>
    </g>
  );
}

export default function App() {
  const bold = { fontFamily: FONT, fontWeight: 700, fill: '#000' };
  return (
    <svg width={2818} height={3855} style={{ position: 'absolute', left: 0, top: 0, background: '#fff' }}>
      <rect x={0} y={0} width={2716} height={28} fill="#971b20" />
      <rect x={0} y={0} width={247} height={11} fill="#c9c6ab" />
      <rect x={278} y={0} width={16} height={11} fill="#c9c6ab" />

      <text x={-34} y={1188} fontFamily={FONT} fontSize={84} fill="#000">e</text>
      <text x={-14} y={1285} fontFamily={FONT} fontSize={84} fill="#000">t</text>
      <text x={-19} y={1368} fontFamily={FONT} fontSize={84} fill="#000">)</text>

      <Panel name="e1" slices={e1Slices} cx={708} halfW={504.5} halfH={159.5} y0={386.5} y5={1672} axisColor="#333" showDepthLabels showSn0 />
      <Panel name="e2" slices={e1Slices} patches={e2Patches} cx={1966} halfW={531} halfH={157} y0={412.6} y5={1676.7} axisColor="#777" showDepthLabels={false} showSn0={false} clipLeft={1429} />
      <Panel name="e3" slices={e3Slices} details={e3Details} cx={650.5} halfW={505} halfH={157.5} y0={2326.7} y5={3603.6} axisColor="#333" showDepthLabels showSn0 />
      <Panel name="e4" slices={e4Slices} details={e4Details} cx={2065.6} halfW={504.5} halfH={157.5} y0={2325} y5={3595} axisColor="#777" showDepthLabels={false} showSn0 />
      <Colorbar />

      <text x={696} y={171} fontSize={85} textAnchor="middle" {...bold}>CVM-S4.26</text>
      <text x={2061} y={102} fontSize={85} textAnchor="middle" {...bold}>Superimposed with</text>
      <text x={2061} y={204} fontSize={85} textAnchor="middle" {...bold}>3D Model from reference [1]</text>
      <text x={751} y={2052} fontSize={86} textAnchor="middle" {...bold}>Cosine Taper Smoothing</text>
      <text x={2105} y={2049} fontSize={85} textAnchor="middle" {...bold}>PIPGM Fusion</text>

      <text x={158} y={306} fontSize={90} {...bold}>e1</text>
      <text x={1466} y={306} fontSize={90} {...bold}>e2</text>
      <text x={152} y={2243} fontSize={90} {...bold}>e3</text>
      <text x={1458} y={2243} fontSize={90} {...bold}>e4</text>

      <clipPath id="rmse-clip">
        <rect x={1282} y={2080} width={300} height={80} />
      </clipPath>
      <text x={1527} y={2137} fontSize={52} textAnchor="end" clipPath="url(#rmse-clip)" {...bold}>RMSE (km/s)</text>
      <text x={2519} y={2141} fontSize={52} {...bold}>RMSE (km/s)</text>

      {[2311, 2580, 2849, 3117, 3385, 3654].map((y, i) => (
        <text key={y} x={1293} y={y} fontSize={74} {...bold}>{e3Rmse[i]}</text>
      ))}
      {[2319, 2588, 2857, 3125, 3393, 3662].map((y, i) => (
        <text key={y} x={2608} y={y} fontSize={74} {...bold}>{e4Rmse[i]}</text>
      ))}
    </svg>
  );
}
